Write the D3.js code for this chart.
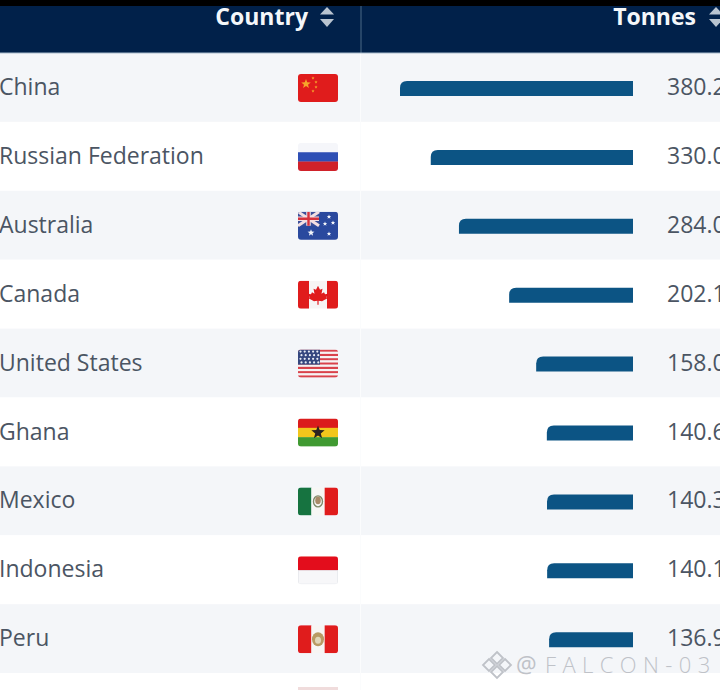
<!DOCTYPE html>
<html><head><meta charset="utf-8">
<script src="https://cdn.jsdelivr.net/npm/d3@7"></script>
<style>html,body{margin:0;padding:0;background:#fff;overflow:hidden}svg{display:block}text{font-family:"Open Sans","Noto Sans",sans-serif}</style>
</head><body><svg id="c" width="720" height="690"></svg>
<script>
const countries=["China","Russian Federation","Australia","Canada","United States","Ghana","Mexico","Indonesia","Peru"];
const tonnes=[380.2,330.0,284.0,202.1,158.0,140.6,140.3,140.1,136.9];
const tonneLabels=["380.2","330.0","284.0","202.1","158.0","140.6","140.3","140.1","136.9"];
const headers=["Country","Tonnes"];
const flagCodes=["cn","ru","au","ca","us","gh","mx","id","pe"];

const svg=d3.select("#c");
const W=720,H=690;
const rowY=d3.scaleLinear().domain([0,1]).range([53,121.9]);
const x=d3.scaleLinear().domain([0,380.2]).range([633,400]);
const RED="#e01a1f";

const defs=svg.append("defs");
defs.append("filter").attr("id","soft").append("feGaussianBlur").attr("stdDeviation",0.55);
defs.append("clipPath").attr("id","fc").append("rect").attr("width",40).attr("height",28).attr("rx",3);

svg.append("rect").attr("width",W).attr("height",H).attr("fill","#fff");
const rowIdx=d3.range(10);
svg.selectAll("rect.row").data(rowIdx).join("rect").attr("class","row")
  .attr("x",0).attr("width",W).attr("y",i=>rowY(i)).attr("height",rowY(1)-rowY(0))
  .attr("fill",i=>i%2===0?"#f4f6f9":"#ffffff");
svg.append("line").attr("x1",360.5).attr("x2",360.5).attr("y1",53).attr("y2",H).attr("stroke","#fbfcfd").attr("stroke-width",1);

svg.append("rect").attr("width",W).attr("height",6).attr("fill","#000");
svg.append("rect").attr("y",6).attr("width",W).attr("height",47).attr("fill","#01214a");
svg.append("line").attr("x1",361).attr("x2",361).attr("y1",6).attr("y2",53).attr("stroke","#4d6a85").attr("stroke-width",1);
svg.append("line").attr("x1",0).attr("x2",W).attr("y1",53).attr("y2",53).attr("stroke","#a9bccd").attr("stroke-width",1);
const hx=[[308,327],[696,716]];
headers.forEach((h,i)=>{
  svg.append("text").attr("x",hx[i][0]).attr("y",25).attr("text-anchor","end")
    .attr("font-size",23).attr("font-weight",700).attr("fill","#f4f7fa").text(h);
  const g=svg.append("g").attr("transform",`translate(${hx[i][1]},17)`);
  g.append("path").attr("d","M-7,-2.5L0,-10L7,-2.5Z").attr("fill","#b9c4d0");
  g.append("path").attr("d","M-7,2L0,10L7,2Z").attr("fill","#b9c4d0");
});

svg.selectAll("text.name").data(countries).join("text").attr("class","name")
  .attr("x",-1).attr("y",(d,i)=>rowY(i)+42).attr("font-size",23).attr("fill","#4b5563").text(d=>d);
svg.selectAll("path.bar").data(tonnes).join("path").attr("class","bar")
  .attr("d",(d,i)=>{const x0=x(d),x1=x(0),y=rowY(i)+28,h=15,r=7;
    return `M${x0},${y+h}V${y+r}Q${x0},${y} ${x0+r},${y}H${x1}V${y+h}Z`;})
  .attr("fill","#0c5484");
svg.selectAll("text.val").data(tonneLabels).join("text").attr("class","val")
  .attr("x",667).attr("y",(d,i)=>rowY(i)+42).attr("font-size",23).attr("fill","#4b5563").text(d=>d);

function star(g,cx,cy,r,fill){
  const p=d3.range(10).map(k=>{const a=-Math.PI/2+k*Math.PI/5,q=k%2?r*0.42:r;return [cx+q*Math.cos(a),cy+q*Math.sin(a)];});
  g.append("path").attr("d",d3.line()(p)+"Z").attr("fill",fill);
}
function bands(g,cols,vert){
  cols.forEach((c,i)=>{const n=cols.length;
    g.append("rect").attr("x",vert?i*40/n:0).attr("y",vert?0:i*28/n)
     .attr("width",vert?40/n+.2:40).attr("height",vert?28:28/n+.2).attr("fill",c);});
}
const drawFlag={
 cn(g){bands(g,[RED],false);star(g,8,10,5,"#f6a52a");[[15,4],[18,8],[18,13],[15,17]].forEach(p=>star(g,p[0],p[1],1.7,"#f6a52a"));},
 ru(g){bands(g,["#f5f6fa","#2f4fb5","#d0202a"],false);},
 au(g){bands(g,["#2b4a9e"],false);
   g.append("rect").attr("width",21).attr("height",14).attr("fill","#3a4f9a");
   g.append("path").attr("d","M0,0L21,14M21,0L0,14").attr("stroke","#f3dfe2").attr("stroke-width",3);
   g.append("path").attr("d","M10.5,0V14M0,7H21").attr("stroke","#f3dfe2").attr("stroke-width",4.5);
   g.append("path").attr("d","M10.5,0V14M0,7H21").attr("stroke","#d5303c").attr("stroke-width",2.4);
   [[13,21,3.6],[31,5,2.4],[35,11,2.4],[27,12,2.4],[31,22,2.4]].forEach(p=>star(g,p[0],p[1],p[2],"#f4f6fb"));},
 ca(g){g.append("rect").attr("width",40).attr("height",28).attr("fill","#f7f5f5");
   g.append("rect").attr("width",11).attr("height",28).attr("fill",RED);
   g.append("rect").attr("x",29).attr("width",11).attr("height",28).attr("fill",RED);
   g.append("path").attr("d","M20,5L22,9L24.5,8L23.5,13L26,11.5L27,13.5L30,13L28.5,16.5L29.5,17.5L24,20.5L20.6,20V24H19.4V20L16,20.5L10.5,17.5L11.5,16.5L10,13L13,13.5L14,11.5L16.5,13L15.5,8L18,9Z").attr("fill",RED);},
 us(g){d3.range(13).forEach(i=>g.append("rect").attr("y",i*28/13).attr("width",40).attr("height",28/13+.1).attr("fill",i%2?"#f6f3f3":"#d9434b"));
   g.append("rect").attr("width",22).attr("height",15).attr("fill","#34477f");
   d3.range(4).forEach(r=>d3.range(5).forEach(c=>g.append("circle").attr("cx",2.5+c*4.2+(r%2)*1).attr("cy",2+r*3.6).attr("r",1.1).attr("fill","#e8ecf5")));},
 gh(g){bands(g,["#db1c1f","#f2c61f","#3f9a31"],false);star(g,20,14,7,"#2a2320");},
 mx(g){bands(g,["#12733f","#f7f7f5",RED],true);
   g.append("ellipse").attr("cx",20).attr("cy",14).attr("rx",4.5).attr("ry",5.5).attr("fill","none").attr("stroke","#7f8a6a").attr("stroke-width",1.4);
   g.append("ellipse").attr("cx",20).attr("cy",13).attr("rx",2.8).attr("ry",3.8).attr("fill","#a88a68");},
 id(g){bands(g,["#e3101c","#f7f7f9"],false);
   g.append("rect").attr("x",.25).attr("y",14).attr("width",39.5).attr("height",13.75).attr("fill","none").attr("stroke","#dde0e5").attr("stroke-width",.5);},
 pe(g){bands(g,[RED,"#f7f5f3",RED],true);
   g.append("ellipse").attr("cx",20).attr("cy",14).attr("rx",6).attr("ry",7).attr("fill","#b99a64");
   g.append("ellipse").attr("cx",20).attr("cy",15).attr("rx",3).attr("ry",3.5).attr("fill","#e0d6b8");}
};
flagCodes.forEach((c,i)=>{
  const g=svg.append("g").attr("transform",`translate(298,${rowY(i)+21})`).attr("filter","url(#soft)")
    .append("g").attr("clip-path","url(#fc)");
  drawFlag[c](g);
});
svg.append("rect").attr("x",298).attr("y",687).attr("width",40).attr("height",3).attr("fill","#f0dcdc").attr("filter","url(#soft)");

const wm=svg.append("g").attr("fill","none").attr("stroke","#bfc2c8").attr("stroke-width",1.8);
wm.append("path").attr("d","M497,652L503,658L497,664L491,658Z");
wm.append("path").attr("d","M497,666L503,672L497,678L491,672Z");
wm.append("path").attr("d","M489,659L495,665L489,671L483,665Z");
wm.append("path").attr("d","M505,659L511,665L505,671L499,665Z");
svg.append("text").attr("x",516).attr("y",673).attr("font-size",23).attr("fill","#bfc2c8").text("@");
svg.append("text").attr("x",545).attr("y",673).attr("font-size",22).attr("letter-spacing",6.4).attr("fill","#bfc2c8").attr("font-weight",300).text("FALCON-03");
</script></body></html>
